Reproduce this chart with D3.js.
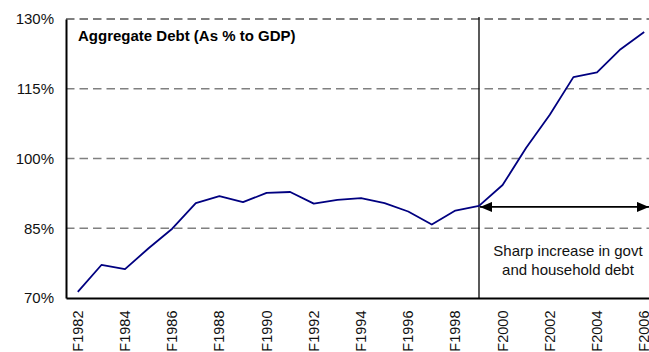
<!DOCTYPE html>
<html>
<head>
<meta charset="utf-8">
<script src="https://cdn.jsdelivr.net/npm/d3@7"></script>
<style>
  html, body { margin: 0; padding: 0; background: #fff; }
  svg { display: block; font-family: "Liberation Sans", Arial, sans-serif; }
</style>
</head>
<body>
<svg id="chart" width="649" height="352"></svg>
<script>
// Fiscal years on the category axis
const years = ["F1982","F1983","F1984","F1985","F1986","F1987","F1988","F1989","F1990",
  "F1991","F1992","F1993","F1994","F1995","F1996","F1997","F1998","F1999","F2000",
  "F2001","F2002","F2003","F2004","F2005","F2006"];
// Aggregate debt, % of GDP
const debtPct = [71.3, 77.1, 76.2, 80.7, 84.9, 90.4, 91.9, 90.6, 92.6, 92.8, 90.3, 91.1,
  91.5, 90.4, 88.6, 85.8, 88.8, 89.8, 94.3, 102.3, 109.4, 117.5, 118.5, 123.5, 127.2];
const yTicks = [70, 85, 100, 115, 130];
const xTickLabels = ["F1982","F1984","F1986","F1988","F1990","F1992","F1994","F1996",
  "F1998","F2000","F2002","F2004","F2006"];
const title = "Aggregate Debt (As % to GDP)";
const breakYear = "F1999";
const noteLines = ["Sharp increase in govt", "and household debt"];

const svg = d3.select("#chart");
const plot = { left: 66, top: 19, bottom: 298, right: 656 };

const x = d3.scaleBand().domain(years).range([plot.left, plot.right]).paddingInner(0).paddingOuter(0);
const cx = d => x(d) + x.bandwidth() / 2;
const y = d3.scaleLinear().domain([70, 130]).range([plot.bottom, plot.top]);

// arrow markers
const defs = svg.append("defs");
defs.append("marker").attr("id", "arrowHead")
  .attr("viewBox", "0 0 12 10").attr("refX", 12).attr("refY", 5)
  .attr("markerWidth", 12).attr("markerHeight", 10)
  .attr("markerUnits", "userSpaceOnUse").attr("orient", "auto-start-reverse")
  .append("path").attr("d", "M0,0 L12,5 L0,10 Z").attr("fill", "#000");

// horizontal dashed gridlines
svg.append("g").selectAll("line").data(yTicks.filter(v => v > 70)).join("line")
  .attr("x1", plot.left).attr("x2", 649)
  .attr("y1", d => y(d)).attr("y2", d => y(d))
  .attr("stroke", d => d === 130 ? "#555" : "#808080")
  .attr("stroke-width", d => d === 130 ? 1.6 : 1.3)
  .attr("stroke-dasharray", "8.5,5");

// y axis
const yAxis = svg.append("g").attr("transform", `translate(${plot.left},0)`)
  .call(d3.axisLeft(y).tickValues(yTicks).tickSize(0).tickPadding(12).tickFormat(d => d + "%"));
yAxis.select(".domain").attr("stroke", "#000").attr("stroke-width", 2);
yAxis.selectAll("text").attr("font-size", 15).attr("fill", "#111")
  .attr("font-family", "'Liberation Sans', Arial, sans-serif");

// x axis, labels rotated to read upwards
const xAxis = svg.append("g").attr("transform", `translate(0,${plot.bottom})`)
  .call(d3.axisBottom(x).tickValues(xTickLabels).tickSize(0));
xAxis.select(".domain").attr("stroke", "#000").attr("stroke-width", 2);
xAxis.selectAll("text")
  .attr("font-size", 14.5).attr("fill", "#111")
  .attr("font-family", "'Liberation Sans', Arial, sans-serif")
  .attr("text-anchor", "end")
  .attr("transform", "translate(0,12.5) rotate(-90)")
  .attr("x", 0).attr("y", 0).attr("dy", "0.35em");

// vertical divider at the break year
svg.append("line")
  .attr("x1", cx(breakYear)).attr("x2", cx(breakYear))
  .attr("y1", plot.top - 2).attr("y2", plot.bottom)
  .attr("stroke", "#000").attr("stroke-width", 1.3);

// debt line
const line = d3.line().x((d, i) => cx(years[i])).y(d => y(d));
svg.append("path").datum(debtPct)
  .attr("d", line).attr("fill", "none")
  .attr("stroke", "#000080").attr("stroke-width", 1.8).attr("stroke-linejoin", "round");

// double-headed arrow from the break year
const breakVal = debtPct[years.indexOf(breakYear)];
svg.append("line")
  .attr("x1", cx(breakYear) + 1).attr("x2", 649)
  .attr("y1", y(breakVal) + 1).attr("y2", y(breakVal) + 1)
  .attr("stroke", "#000").attr("stroke-width", 1.8)
  .attr("marker-start", "url(#arrowHead)").attr("marker-end", "url(#arrowHead)");

// annotation
svg.append("text").attr("x", 568).attr("y", 256)
  .attr("text-anchor", "middle").attr("font-size", 15).attr("fill", "#111")
  .selectAll("tspan").data(noteLines).join("tspan")
  .attr("x", 568).attr("dy", (d, i) => i === 0 ? 0 : 19).text(d => d);

// title
svg.append("text").attr("x", 78).attr("y", 41)
  .attr("font-size", 15).attr("font-weight", "bold").attr("fill", "#000")
  .text(title);
</script>
</body>
</html>
